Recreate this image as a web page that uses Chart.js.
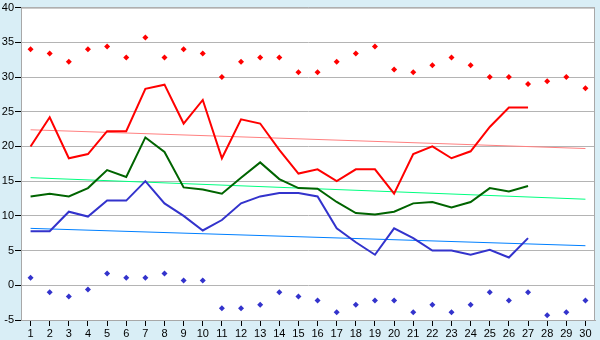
<!DOCTYPE html>
<html>
<head>
<meta charset="utf-8">
<title>Temperatures</title>
<script src="https://cdn.jsdelivr.net/npm/chart.js@4.4.0/dist/chart.umd.min.js"></script>
<style>
  body { margin: 0; background: #d9eef6; }
  #wrap { width: 600px; height: 340px; }
</style>
</head>
<body>
<div id="wrap"><canvas id="tempChart" width="600" height="340"></canvas></div>
<script>
var days = ['1','2','3','4','5','6','7','8','9','10','11','12','13','14','15','16','17','18','19','20','21','22','23','24','25','26','27','28','29','30'];

// daily extremes
var maxDots = [34.0, 33.4, 32.2, 34.0, 34.4, 32.8, 35.7, 32.8, 34.0, 33.4, 30.0, 32.2, 32.8, 32.8, 30.7, 30.7, 32.2, 33.4, 34.4, 31.1, 30.7, 31.7, 32.8, 31.7, 30.0, 30.0, 29.0, 29.4, 30.0, 28.4];
var minDots = [1.1, -1.0, -1.6, -0.6, 1.7, 1.1, 1.1, 1.7, 0.7, 0.7, -3.3, -3.3, -2.8, -1.0, -1.6, -2.2, -3.9, -2.8, -2.2, -2.2, -3.9, -2.8, -3.9, -2.8, -1.0, -2.2, -1.0, -4.3, -3.9, -2.2];

// measured highs / means / lows
var highLine = [20.0, 24.2, 18.3, 18.9, 22.2, 22.2, 28.3, 28.9, 23.3, 26.7, 18.3, 23.9, 23.3, 19.5, 16.1, 16.7, 15.0, 16.7, 16.7, 13.2, 18.9, 20.0, 18.3, 19.3, 22.8, 25.6, 25.6, null, null, null];
var meanLine = [12.8, 13.2, 12.8, 14.0, 16.6, 15.6, 21.3, 19.2, 14.1, 13.8, 13.2, 15.5, 17.7, 15.3, 14.0, 13.9, 12.0, 10.4, 10.2, 10.6, 11.8, 12.0, 11.2, 12.0, 14.0, 13.5, 14.3, null, null, null];
var lowLine = [7.8, 7.8, 10.6, 9.9, 12.2, 12.2, 15.0, 11.8, 10.0, 7.9, 9.4, 11.8, 12.8, 13.3, 13.3, 12.8, 8.2, 6.2, 4.4, 8.2, 6.8, 5.0, 5.0, 4.4, 5.1, 4.0, 6.8, null, null, null];

// trend end points (day 1 and day 30)
var highTrend = [22.4, 19.7];
var meanTrend = [15.5, 12.4];
var lowTrend = [8.2, 5.7];

var yTicks = [-5, 0, 5, 10, 15, 20, 25, 30, 35, 40];

function trendData(ends) {
  return [{x: days[0], y: ends[0]}, {x: days[days.length - 1], y: ends[1]}];
}

var frame = {
  id: 'frame',
  beforeDraw: function(chart) {
    var c = chart.ctx, a = chart.chartArea;
    c.save();
    c.fillStyle = '#d9eef6';
    c.fillRect(0, 0, chart.width, chart.height);
    c.fillStyle = '#ffffff';
    c.fillRect(a.left, a.top, a.right - a.left, a.bottom - a.top);
    c.restore();
  },
  afterDraw: function(chart) {
    var c = chart.ctx, a = chart.chartArea;
    c.save();
    c.strokeStyle = '#a8a8a8';
    c.lineWidth = 1;
    c.strokeRect(a.left + 0.5, a.top + 0.5, a.right - a.left - 1, a.bottom - a.top);
    c.restore();
  }
};

function line(data, color, order) {
  return { data: data, borderColor: color, borderWidth: 2, pointRadius: 0, tension: 0, spanGaps: false, order: order };
}
function trend(ends, color, order) {
  return { data: trendData(ends), borderColor: color, borderWidth: 1, pointRadius: 0, tension: 0, order: order };
}
function dots(data, color) {
  return { data: data, showLine: false, pointStyle: 'rectRot', pointRadius: 3, pointBackgroundColor: color, pointBorderColor: color, pointBorderWidth: 0, order: 10 };
}

var fontSpec = { family: '"Liberation Sans", Arial, sans-serif', size: 11 };

new Chart(document.getElementById('tempChart'), {
  type: 'line',
  data: {
    labels: days,
    datasets: [
      line(highLine, '#ff0000', 1),
      line(meanLine, '#006400', 2),
      line(lowLine, '#3333cc', 3),
      trend(highTrend, '#ff8080', 5),
      trend(meanTrend, '#00ff80', 6),
      trend(lowTrend, '#0080ff', 7),
      dots(maxDots, '#ff0000'),
      dots(minDots, '#3333cc')
    ]
  },
  options: {
    responsive: false,
    animation: false,
    layout: { padding: { top: 5, right: 5, left: 0, bottom: 0 } },
    plugins: { legend: { display: false }, tooltip: { enabled: false } },
    scales: {
      x: {
        offset: true,
        grid: { drawOnChartArea: false, tickColor: '#000000', tickLength: 6, offset: false },
        border: { color: '#a8a8a8' },
        ticks: { color: '#000000', font: fontSpec, padding: 1, maxRotation: 0, autoSkip: false },
        afterFit: function(scale) { scale.height = 20; }
      },
      y: {
        min: yTicks[0],
        max: yTicks[yTicks.length - 1],
        afterBuildTicks: function(scale) {
          scale.ticks = yTicks.map(function(v) { return { value: v }; });
        },
        grid: { color: '#b4b4b4', tickColor: '#000000', tickLength: 6 },
        border: { color: '#a8a8a8' },
        ticks: { color: '#000000', font: fontSpec, padding: 1 },
        afterFit: function(scale) { scale.width = 21; }
      }
    }
  },
  plugins: [frame]
});
</script>
</body>
</html>
